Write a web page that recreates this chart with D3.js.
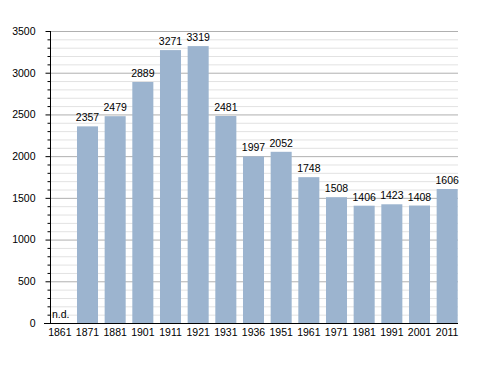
<!DOCTYPE html>
<html>
<head>
<meta charset="utf-8">
<script src="https://cdn.jsdelivr.net/npm/d3@7"></script>
<style>
  body { margin: 0; background: #fff; }
  text { font-family: "Liberation Sans", Arial, sans-serif; font-size: 10.5px; fill: #000; }
</style>
</head>
<body>
<div id="chart"></div>
<script>
// population by census year
var years = ["1861", "1871", "1881", "1901", "1911", "1921", "1931", "1936",
             "1951", "1961", "1971", "1981", "1991", "2001", "2011"];
var population = [null, 2357, 2479, 2889, 3271, 3319, 2481, 1997,
                  2052, 1748, 1508, 1406, 1423, 1408, 1606];
var majorTicks = [0, 500, 1000, 1500, 2000, 2500, 3000, 3500];

var width = 488, height = 373;

var svg = d3.select("#chart").append("svg")
    .attr("width", width)
    .attr("height", height);

var x = d3.scaleBand()
    .domain(years)
    .range([46, 461])
    .paddingInner(0.24)
    .paddingOuter(0.12);

var y = d3.scaleLinear()
    .domain([0, 3500])
    .range([323, 31]);

var minorTicks = d3.range(0, 3501, 100).filter(function (d) { return d % 500 != 0; });

// grid
svg.append("g").selectAll("line")
    .data(minorTicks)
    .enter().append("line")
    .attr("x1", 50).attr("x2", 458)
    .attr("y1", function (d) { return y(d) + 0.5; })
    .attr("y2", function (d) { return y(d) + 0.5; })
    .attr("stroke", "#e2e2e2");

svg.append("g").selectAll("line")
    .data(majorTicks.slice(1))
    .enter().append("line")
    .attr("x1", 50).attr("x2", 458)
    .attr("y1", function (d) { return y(d) + 0.5; })
    .attr("y2", function (d) { return y(d) + 0.5; })
    .attr("stroke", "#b0b0b0");

// bars
svg.append("g").selectAll("rect")
    .data(years.filter(function (d, i) { return population[i] != null; }))
    .enter().append("rect")
    .attr("x", function (d) { return x(d); })
    .attr("width", x.bandwidth())
    .attr("y", function (d) { return y(population[years.indexOf(d)]); })
    .attr("height", function (d) { return y(0) - y(population[years.indexOf(d)]); })
    .attr("fill", "#9cb4cf");

// value labels
svg.append("g").selectAll("text")
    .data(years)
    .enter().append("text")
    .attr("x", function (d, i) {
        return population[i] == null ? 52 : x(d) + x.bandwidth() / 2;
    })
    .attr("y", function (d, i) {
        return population[i] == null ? y(0) - 5 : y(population[i]) - 5;
    })
    .attr("text-anchor", function (d, i) { return population[i] == null ? "start" : "middle"; })
    .text(function (d, i) { return population[i] == null ? "n.d." : population[i]; });

// y axis
var yAxis = svg.append("g")
    .attr("transform", "translate(50.5,0)")
    .call(d3.axisLeft(y).tickValues(majorTicks).tickFormat(d3.format("d")).tickSize(5).tickPadding(10));
yAxis.select(".domain").attr("d", "M0," + y(3500) + "V" + y(0));
yAxis.selectAll("text").style("font-size", "10.5px").attr("fill", "#000");

svg.append("g")
    .attr("transform", "translate(50.5,0)")
    .selectAll("line")
    .data(minorTicks)
    .enter().append("line")
    .attr("x1", -3).attr("x2", 0)
    .attr("y1", function (d) { return y(d) + 0.5; })
    .attr("y2", function (d) { return y(d) + 0.5; })
    .attr("stroke", "#000");

// x axis
var xAxis = svg.append("g")
    .attr("transform", "translate(0," + (y(0) + 0.5) + ")")
    .call(d3.axisBottom(x).tickSize(0).tickPadding(5));
xAxis.select(".domain").attr("d", "M44,0H458");
xAxis.selectAll("text").style("font-size", "10.5px").attr("fill", "#000");
</script>
</body>
</html>
